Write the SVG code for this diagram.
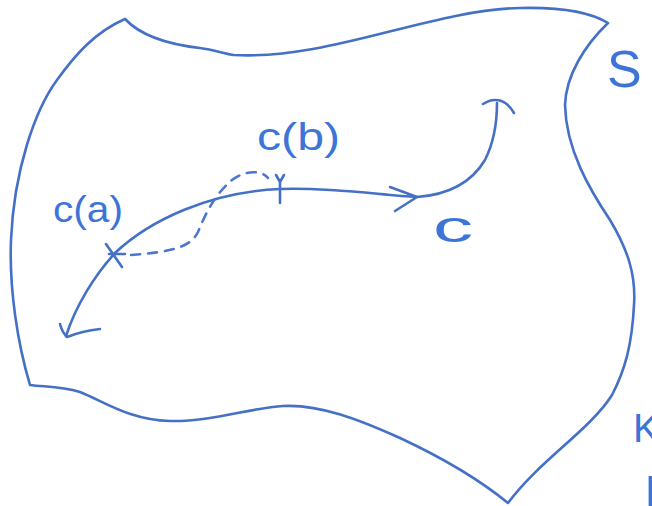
<svg xmlns="http://www.w3.org/2000/svg" width="652" height="506" viewBox="0 0 652 506">
<style>
.ln{fill:none;stroke:#4470c6;stroke-width:2.6;stroke-linecap:round;stroke-linejoin:round}
.ds{fill:none;stroke:#4a78d0;stroke-width:2.6;stroke-linecap:round;stroke-dasharray:9 8}
.tx{font-family:"Liberation Sans","DejaVu Sans",sans-serif;fill:#3d74d8}
</style>
<rect width="652" height="506" fill="#ffffff"/>
<g id="surface">
<path class="ln" d="M125,19 C140,35 165,44 200,48 C215,50 225,54 234,55 C330,60 430,10 520,8 C560,7 590,12 608,23 C585,45 566,75 565,105 C566,150 590,190 610,220 C628,250 636,275 634,305 C632,345 625,370 612,395 C590,430 540,460 508,503 C470,472 430,452 400,438 C360,420 320,404 283,406 C250,408 210,422 170,421 C130,420 105,402 80,392 C60,386 45,387 30,385 C18,345 9,290 11,240 C14,170 35,110 57,80 C75,55 95,32 125,19"/>
<text class="tx" x="607" y="87" font-size="52">S</text>
</g>
<g id="curve">
<path class="ln" d="M115,253 C150,220 210,192 280,189 C330,187 380,195 417,197 C445,195 470,185 485,160 C495,140 497,122 497,103"/>
<path class="ln" d="M390,187 L417,197 L395,211"/>
<path class="ln" d="M483,104 C492,98 505,97 514,113"/>
<path class="ln" d="M115,253 C95,275 76,305 66,336"/>
<path class="ln" d="M60,324 Q62,332 67,337 Q82,331 100,329"/>
<path class="ln" d="M106,244 L122,267 M109,254 L125,254"/>
<path class="ln" d="M280,180 L280,203 M276,175 L280,182 L284,175"/>
<path class="ds" d="M131,255 C170,252 190,248 198,232 C205,215 214,195 232,180 C245,170 262,170 268,178"/>
</g>
<g id="labels">
<text class="tx" x="53" y="222" font-size="36" textLength="70" lengthAdjust="spacingAndGlyphs">c(a)</text>
<text class="tx" x="257" y="150" font-size="38" textLength="83" lengthAdjust="spacingAndGlyphs">c(b)</text>
<text class="tx" x="433" y="242" font-size="44" textLength="40" lengthAdjust="spacingAndGlyphs">c</text>
<text class="tx" x="633" y="442" font-size="40">K</text>
<text class="tx" x="645" y="514" font-size="52" font-weight="bold">l</text>
</g>
</svg>
